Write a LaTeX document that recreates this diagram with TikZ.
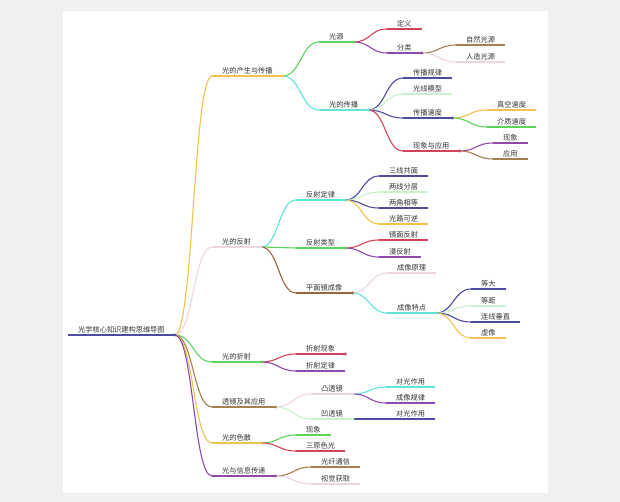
\documentclass[tikz,border=0pt]{standalone}
\usepackage{fontspec}
\newfontfamily\cjk{Noto Sans CJK SC}
\usetikzlibrary{calc}
\definecolor{navy}{HTML}{4E4CA2}
\definecolor{gold}{HTML}{F2C24F}
\definecolor{leaf}{HTML}{5CD35C}
\definecolor{aqua}{HTML}{5FE3DA}
\definecolor{blush}{HTML}{EDD5E4}
\definecolor{mint}{HTML}{C9F1CC}
\definecolor{crimson}{HTML}{D4435B}
\definecolor{plum}{HTML}{9249AE}
\definecolor{bark}{HTML}{A68050}
\definecolor{rust}{HTML}{A0643A}
\definecolor{ink}{HTML}{333333}
\definecolor{paper}{HTML}{EFEFEF}
\tikzset{
  topic/.style={anchor=south west, inner xsep=10pt, inner ysep=1.6pt, text height=6.2pt,
    text depth=1pt, font=\cjk\fontsize{7.2}{8}\selectfont, text=ink},
  wire/.style={line width=1.1pt},
}
\newcommand{\topic}[5]{\node[topic] (#1) at (#2,#3) {#5};
  \draw[wire, #4] (#1.south west) -- (#1.south east);}
\newcommand{\mmlink}[3]{\draw[wire, #3] let \p1=(#1.south east), \p2=(#2.south west) in
  (\p1) .. controls ({(\x1+\x2)/2},\y1) and ({(\x1+\x2)/2},\y2) .. (\p2);}
\newcommand{\knot}[2]{\fill[#2] (#1.south east) circle (1.6pt);}

\begin{document}
\begin{tikzpicture}[x=1pt, y=-1pt]
  \fill[paper] (0,0) rectangle (620,502);
  \fill[white] (63,11) rectangle (548,493);

  \topic{root}{68}{335}{navy}{光学核心知识建构思维导图}

  % first level
  \topic{spread}{212}{76}{gold}{光的产生与传播}
  \topic{reflect}{212}{247}{blush}{光的反射}
  \topic{refract}{212}{362}{leaf}{光的折射}
  \topic{lens}{212}{407}{bark}{透镜及其应用}
  \topic{disperse}{212}{443}{gold}{光的色散}
  \topic{info}{212}{476}{plum}{光与信息传递}

  % second level
  \topic{source}{319}{42}{leaf}{光源}
  \topic{travel}{319}{110}{aqua}{光的传播}
  \topic{rlaw}{296}{200}{aqua}{反射定律}
  \topic{rtype}{296}{248}{leaf}{反射类型}
  \topic{mirror}{296}{293}{rust}{平面镜成像}
  \topic{fsee}{296}{354}{crimson}{折射现象}
  \topic{flaw}{296}{371}{plum}{折射定律}
  \topic{convex}{311}{394}{blush}{凸透镜}
  \topic{concave}{311}{419}{mint}{凹透镜}
  \topic{dsee}{296}{435}{leaf}{现象}
  \topic{primary}{296}{451}{crimson}{三原色光}
  \topic{fiber}{311}{467}{bark}{光纤通信}
  \topic{vision}{311}{484}{blush}{视觉获取}

  % third level
  \topic{define}{387}{29}{crimson}{定义}
  \topic{sort}{387}{53}{plum}{分类}
  \topic{tlaw}{403}{78}{navy}{传播规律}
  \topic{model}{403}{94}{mint}{光线模型}
  \topic{speed}{403}{118}{navy}{传播速度}
  \topic{use}{403}{151}{crimson}{现象与应用}
  \topic{plane}{379}{176}{navy}{三线共面}
  \topic{sides}{379}{192}{mint}{两线分居}
  \topic{angles}{379}{208}{navy}{两角相等}
  \topic{path}{379}{224}{gold}{光路可逆}
  \topic{specular}{379}{240}{crimson}{镜面反射}
  \topic{diffuse}{379}{257}{plum}{漫反射}
  \topic{principle}{387}{273}{blush}{成像原理}
  \topic{traits}{387}{313}{aqua}{成像特点}
  \topic{vxact}{386}{387}{aqua}{对光作用}
  \topic{vxrule}{386}{403}{plum}{成像规律}
  \topic{cvact}{386}{419}{navy}{对光作用}

  % fourth level
  \topic{natural}{456}{45}{bark}{自然光源}
  \topic{artificial}{456}{62}{blush}{人造光源}
  \topic{vacuum}{487}{110}{gold}{真空速度}
  \topic{medium}{487}{127}{leaf}{介质速度}
  \topic{effect}{493}{143}{plum}{现象}
  \topic{apply}{493}{159}{bark}{应用}
  \topic{size}{471}{289}{navy}{等大}
  \topic{dist}{471}{306}{mint}{等距}
  \topic{perp}{471}{322}{navy}{连线垂直}
  \topic{virtual}{471}{338}{gold}{虚像}

  \foreach \a/\b/\c in {root/spread/gold, root/reflect/blush, root/refract/leaf, root/lens/bark,
      root/disperse/gold, root/info/plum, spread/source/leaf, spread/travel/aqua,
      reflect/rlaw/aqua, reflect/rtype/leaf, reflect/mirror/rust, refract/fsee/crimson,
      refract/flaw/plum, lens/convex/blush, lens/concave/mint, disperse/dsee/leaf,
      disperse/primary/crimson, info/fiber/bark, info/vision/blush,
      source/define/crimson, source/sort/plum, travel/tlaw/navy, travel/model/mint,
      travel/speed/navy, travel/use/crimson, rlaw/plane/navy, rlaw/sides/mint,
      rlaw/angles/navy, rlaw/path/gold, rtype/specular/crimson, rtype/diffuse/plum,
      mirror/principle/blush, mirror/traits/aqua, convex/vxact/aqua, convex/vxrule/plum,
      concave/cvact/navy, sort/natural/bark, sort/artificial/blush, speed/vacuum/gold,
      speed/medium/leaf, use/effect/plum, use/apply/bark, traits/size/navy,
      traits/dist/mint, traits/perp/navy, traits/virtual/gold}
    {\mmlink{\a}{\b}{\c}}

  \foreach \n/\c in {root/navy, spread/gold, reflect/blush, refract/leaf, lens/bark,
      disperse/gold, info/plum, source/leaf, travel/aqua, rlaw/aqua, rtype/leaf,
      mirror/rust, fsee/crimson, convex/blush, concave/mint, sort/plum, speed/navy,
      use/crimson, traits/aqua}
    {\knot{\n}{\c}}
\end{tikzpicture}
\end{document}
